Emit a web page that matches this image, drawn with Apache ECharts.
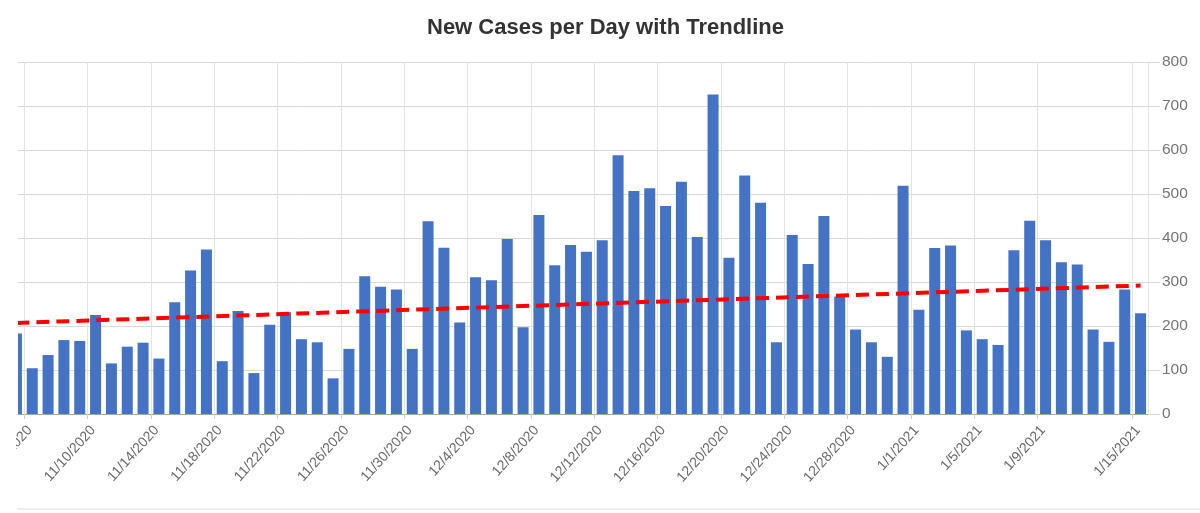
<!DOCTYPE html>
<html>
<head>
<meta charset="utf-8">
<script src="https://cdn.jsdelivr.net/npm/echarts@6/dist/echarts.min.js"></script>
<style>
  html, body { margin: 0; padding: 0; background: #fff; }
  #chart { width: 1200px; height: 513px; }
</style>
</head>
<body>
<div id="chart"></div>
<script>
// ---- data ----
const dates = [
  '11/5/2020','11/6/2020','11/7/2020','11/8/2020','11/9/2020','11/10/2020','11/11/2020','11/12/2020',
  '11/13/2020','11/14/2020','11/15/2020','11/16/2020','11/17/2020','11/18/2020','11/19/2020','11/20/2020',
  '11/21/2020','11/22/2020','11/23/2020','11/24/2020','11/25/2020','11/26/2020','11/27/2020','11/28/2020',
  '11/29/2020','11/30/2020','12/1/2020','12/2/2020','12/3/2020','12/4/2020','12/5/2020','12/6/2020',
  '12/7/2020','12/8/2020','12/9/2020','12/10/2020','12/11/2020','12/12/2020','12/13/2020','12/14/2020',
  '12/15/2020','12/16/2020','12/17/2020','12/18/2020','12/19/2020','12/20/2020','12/21/2020','12/22/2020',
  '12/23/2020','12/24/2020','12/25/2020','12/26/2020','12/27/2020','12/28/2020','12/29/2020','12/30/2020',
  '12/31/2020','1/1/2021','1/2/2021','1/3/2021','1/4/2021','1/5/2021','1/6/2021','1/7/2021',
  '1/8/2021','1/9/2021','1/10/2021','1/11/2021','1/12/2021','1/13/2021','1/14/2021','1/15/2021'
];
const newCases = [
  183, 104, 134, 168, 166, 225, 115, 153, 162, 126, 254, 326, 374, 120, 234, 93,
  203, 231, 170, 163, 81, 148, 313, 289, 283, 148, 438, 378, 208, 311, 304, 398,
  197, 452, 338, 384, 369, 395, 588, 507, 513, 473, 528, 402, 726, 355, 542, 480,
  163, 407, 341, 450, 267, 192, 163, 130, 519, 237, 377, 383, 190, 170, 157, 372,
  439, 395, 345, 340, 192, 164, 283, 229
];
const tickLabels = [
  '11/6/2020','11/10/2020','11/14/2020','11/18/2020','11/22/2020','11/26/2020','11/30/2020',
  '12/4/2020','12/8/2020','12/12/2020','12/16/2020','12/20/2020','12/24/2020','12/28/2020',
  '1/1/2021','1/5/2021','1/9/2021','1/15/2021'
];
const trendDates = ['11/5/2020', '1/15/2021'];
const trendValues = [207, 292];
const yTicks = [0, 100, 200, 300, 400, 500, 600, 700, 800];

// ---- build ----
const barData = newCases.map((v, i) => [i, v]);
const trendData = trendDates.map((d, k) => [dates.indexOf(d), trendValues[k]]);
const tickPositions = tickLabels.map(d => dates.indexOf(d) - 0.5);
const labelShift = 0.35; // labels sit slightly right of their grid line, as in the original
const labelPositions = tickPositions.map(p => p + labelShift);

const chart = echarts.init(document.getElementById('chart'), null, { renderer: 'canvas' });
chart.setOption({
  animation: false,
  backgroundColor: '#ffffff',
  title: {
    text: 'New Cases per Day with Trendline',
    left: 427,
    top: 17,
    padding: 0,
    textStyle: { fontFamily: 'Arial, "Liberation Sans", sans-serif', fontSize: 22, fontWeight: 'bold', color: '#333333' }
  },
  grid: { left: 18, right: 52, top: 62, bottom: 99, containLabel: false, outerBoundsMode: 'none' },
  xAxis: {
    type: 'value',
    min: 0.1,
    max: 71.47,
    axisLine: { show: true, lineStyle: { color: '#a6a6a6', width: 1 } },
    axisTick: { show: true, customValues: tickPositions, length: 5, lineStyle: { color: '#d0d0d0' } },
    axisLabel: {
      customValues: labelPositions,
      rotate: 48,
      margin: 14,
      fontFamily: 'Arial, "Liberation Sans", sans-serif',
      fontSize: 14,
      color: '#6b6b6b',
      formatter: v => dates[Math.round(v + 0.5 - labelShift)] || ''
    },
    splitLine: { show: true, lineStyle: { color: '#e3e3e3', width: 1 } }
  },
  yAxis: {
    type: 'value',
    position: 'right',
    min: yTicks[0],
    max: yTicks[yTicks.length - 1],
    interval: 100,
    axisLine: { show: true, lineStyle: { color: '#e6e6e6' } },
    axisTick: { show: true, length: 12, lineStyle: { color: '#d6d6d6' } },
    axisLabel: {
      margin: 14,
      fontFamily: 'Arial, "Liberation Sans", sans-serif',
      fontSize: 15.5,
      color: '#757575'
    },
    splitLine: { show: true, lineStyle: { color: '#d9d9d9', width: 1 } }
  },
  series: [
    {
      type: 'bar',
      data: barData,
      barWidth: 11,
      itemStyle: { color: '#4472c4' },
      clip: true
    },
    {
      type: 'line',
      data: trendData,
      symbol: 'none',
      clip: true,
      z: 3,
      lineStyle: { color: '#ff0000', width: 4, type: [13, 7] }
    }
  ],
  graphic: [
    { type: 'rect', left: 0, top: 50, shape: { width: 18, height: 364 }, style: { fill: '#ffffff' }, z: 100 },
    { type: 'rect', left: 0, top: 416, shape: { width: 16, height: 97 }, style: { fill: '#ffffff' }, z: 100 },
    { type: 'rect', left: 17, top: 508, shape: { width: 1183, height: 2 }, style: { fill: '#eeeeee' }, z: 100 }
  ]
});
</script>
</body>
</html>
